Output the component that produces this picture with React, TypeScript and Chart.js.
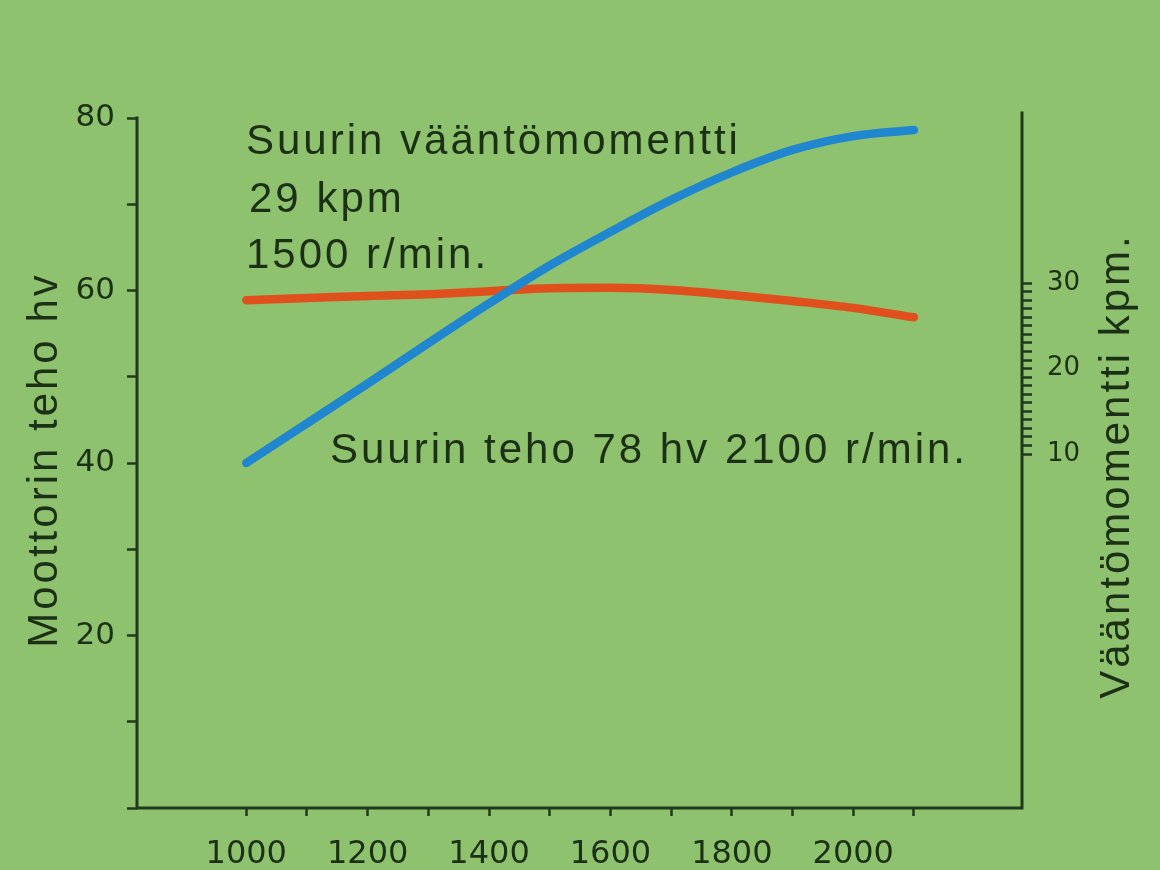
import React, { useEffect, useRef } from "react";
import { Chart, registerables } from "chart.js";

Chart.register(...registerables);

// ---- data ----
const rpm = [1000, 1100, 1200, 1300, 1400, 1500, 1600, 1700, 1800, 1900, 2000, 2100];
const powerHv = [40.0, 44.6, 49.2, 53.9, 58.5, 62.9, 66.8, 70.5, 73.7, 76.3, 77.9, 78.6];
const torqueKpm = [28.0, 28.25, 28.5, 28.7, 29.05, 29.4, 29.45, 29.2, 28.6, 27.9, 27.1, 26.0];

const xTickValues = [1000, 1100, 1200, 1300, 1400, 1500, 1600, 1700, 1800, 1900, 2000, 2100];
const xLabelValues = [1000, 1200, 1400, 1600, 1800, 2000];
const leftTickValues = [0, 10, 20, 30, 40, 50, 60, 70, 80];
const leftLabelValues = [20, 40, 60, 80];
const rightTickValues = [10, 11, 12, 13, 14, 15, 16, 17, 18, 19, 20, 21, 22, 23, 24, 25, 26, 27, 28, 29, 30];
const rightLabelValues = [10, 20, 30];

const annotationLines = ["Suurin vääntömomentti", "29 kpm", "1500 r/min."];
const powerNote = "Suurin teho 78 hv 2100 r/min.";
const leftTitle = "Moottorin teho hv";
const rightTitle = "Vääntömomentti kpm.";

const BG = "#8ec26e";
const INK = "#1b3015";
const AXIS = "#1f3a1a";
const BLUE = "#1f86cf";
const RED = "#e0501c";

export default function App() {
  const ref = useRef<HTMLCanvasElement | null>(null);

  useEffect(() => {
    const canvas = ref.current;
    if (!canvas) return;

    const bgPlugin = {
      id: "bg",
      beforeDraw(chart: any) {
        const ctx = chart.ctx;
        ctx.save();
        ctx.fillStyle = BG;
        ctx.fillRect(0, 0, chart.width, chart.height);
        ctx.restore();
      },
    };

    const decorPlugin = {
      id: "decor",
      afterDraw(chart: any) {
        const ctx = chart.ctx as CanvasRenderingContext2D;
        const a = chart.chartArea;
        const yL = chart.scales.y;
        ctx.save();
        // axis lines
        ctx.strokeStyle = AXIS;
        ctx.lineWidth = 3;
        ctx.lineCap = "square";
        ctx.beginPath();
        ctx.moveTo(a.left, yL.getPixelForValue(80));
        ctx.lineTo(a.left, a.bottom);
        ctx.lineTo(a.right, a.bottom);
        ctx.moveTo(a.right, a.top);
        ctx.lineTo(a.right, a.bottom);
        ctx.stroke();

        // annotations
        ctx.fillStyle = INK;
        ctx.font = '42px "Liberation Sans", Arial, sans-serif';
        (ctx as any).letterSpacing = "3px";
        ctx.textAlign = "left";
        ctx.textBaseline = "alphabetic";
        const ax = a.left + 109;
        ctx.fillText(annotationLines[0], ax, 154);
        ctx.fillText(annotationLines[1], ax + 3, 212);
        ctx.fillText(annotationLines[2], ax, 268);
        ctx.fillText(powerNote, a.left + 193, 463);

        // axis titles
        ctx.textAlign = "center";
        ctx.textBaseline = "middle";
        ctx.save();
        ctx.translate(45, 460);
        ctx.rotate(-Math.PI / 2);
        ctx.fillText(leftTitle, 0, 0);
        ctx.restore();
        ctx.save();
        ctx.translate(1117, 466);
        ctx.rotate(-Math.PI / 2);
        ctx.fillText(rightTitle, 0, 0);
        ctx.restore();
        ctx.restore();
      },
    };

    const chart = new Chart(canvas, {
      type: "line",
      data: {
        datasets: [
          {
            label: "Teho",
            data: rpm.map((r, i) => ({ x: r, y: powerHv[i] })),
            yAxisID: "y",
            borderColor: BLUE,
            borderWidth: 8.5,
            borderCapStyle: "round",
            pointRadius: 0,
            tension: 0.4,
            cubicInterpolationMode: "monotone",
          },
          {
            label: "Vääntömomentti",
            data: rpm.map((r, i) => ({ x: r, y: torqueKpm[i] })),
            yAxisID: "y1",
            borderColor: RED,
            borderWidth: 8.5,
            borderCapStyle: "round",
            pointRadius: 0,
            tension: 0.4,
            cubicInterpolationMode: "monotone",
          },
        ],
      },
      options: {
        animation: false,
        responsive: false,
        devicePixelRatio: 1,
        layout: { padding: { top: 113, left: 0, right: 0, bottom: 0 } },
        plugins: { legend: { display: false }, tooltip: { enabled: false } },
        scales: {
          x: {
            type: "linear",
            position: "bottom",
            min: 820,
            max: 2278,
            afterBuildTicks: (s: any) => {
              s.ticks = xTickValues.map((v) => ({ value: v }));
            },
            afterFit: (s: any) => {
              s.height = 62;
            },
            ticks: {
              autoSkip: false,
              maxRotation: 0,
              minRotation: 0,
              padding: 19,
              color: INK,
              font: { family: '"DejaVu Sans", sans-serif', size: 32 },
              callback: (v: any) => (xLabelValues.includes(Number(v)) ? String(v) : ""),
            },
            grid: {
              drawOnChartArea: false,
              drawTicks: true,
              tickLength: 8,
              tickWidth: 2.5,
              tickColor: AXIS,
            },
            border: { display: false },
          },
          y: {
            type: "linear",
            position: "left",
            min: 0,
            max: 80.58,
            afterBuildTicks: (s: any) => {
              s.ticks = leftTickValues.map((v) => ({ value: v }));
            },
            afterFit: (s: any) => {
              s.width = 137;
            },
            ticks: {
              autoSkip: false,
              padding: 12,
              color: INK,
              font: { family: '"DejaVu Sans", sans-serif', size: 31 },
              callback: (v: any) => (leftLabelValues.includes(Number(v)) ? String(v) : ""),
            },
            grid: {
              drawOnChartArea: false,
              drawTicks: true,
              tickLength: 10,
              tickWidth: 2.5,
              tickColor: AXIS,
            },
            border: { display: false },
          },
          y1: {
            type: "linear",
            position: "right",
            min: -31.4,
            max: 49.9,
            afterBuildTicks: (s: any) => {
              s.ticks = rightTickValues.map((v) => ({ value: v }));
            },
            afterFit: (s: any) => {
              s.width = 138;
            },
            ticks: {
              autoSkip: false,
              padding: 15,
              color: INK,
              font: { family: '"DejaVu Sans", sans-serif', size: 26 },
              callback: (v: any) => (rightLabelValues.includes(Number(v)) ? String(v) : ""),
            },
            grid: {
              drawOnChartArea: false,
              drawTicks: true,
              tickLength: 10,
              tickWidth: 2.5,
              tickColor: AXIS,
            },
            border: { display: false },
          },
        },
      },
      plugins: [bgPlugin, decorPlugin],
    } as any);

    return () => chart.destroy();
  }, []);

  return (
    <div style={{ position: "absolute", left: 0, top: 0, width: 1160, height: 870, background: BG }}>
      <canvas ref={ref} width={1160} height={870} style={{ display: "block", width: 1160, height: 870 }} />
    </div>
  );
}
